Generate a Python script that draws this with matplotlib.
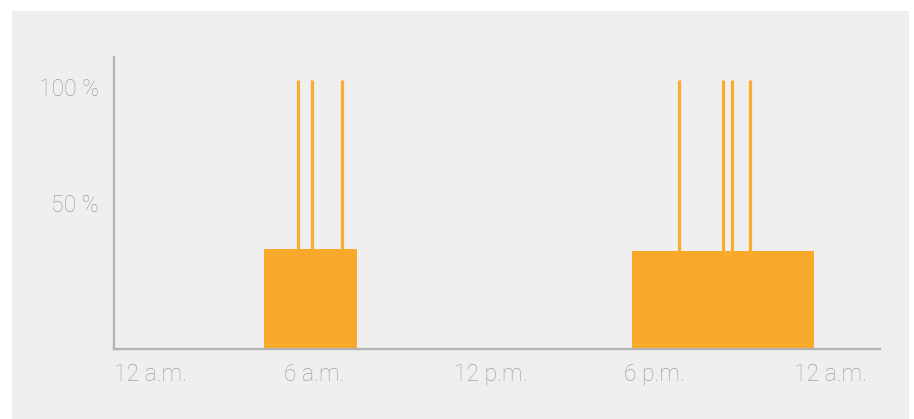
import matplotlib
matplotlib.use("Agg")
import matplotlib.pyplot as plt
from matplotlib.patches import Rectangle
import matplotlib.transforms as mtransforms

# Data (hours of the day, percent)
block_start = [5.29, 18.28]
block_end = [8.58, 24.70]
block_level = [37.2, 36.4]
spike_hours = [6.50, 7.00, 8.05, 19.92, 21.50, 21.82, 22.43]
spike_level = 100
x_ticks = [0, 6, 12, 18, 24]
x_labels = ["12 a.m.", "6 a.m.", "12 p.m.", "6 p.m.", "12 a.m."]
y_ticks = [50, 100]
y_labels = ["50 %", "100 %"]

W, H = 914, 419
fig = plt.figure(figsize=(W / 100, H / 100), dpi=100)
fig.patch.set_facecolor("white")
fig.patches.append(Rectangle((12 / W, 0), (909 - 12) / W, (419 - 11) / H,
                             transform=fig.transFigure, facecolor="#efefef",
                             edgecolor="none", zorder=-10))

ax = fig.add_axes([114 / W, (H - 349) / H, (880 - 114) / W, (349 - 57) / H])
ax.set_facecolor("none")
ax.set_zorder(1)

bar_color = "#f8a92a"
ax.vlines(spike_hours, 0, spike_level, color="#fbab2e", linewidth=2.3, zorder=2)
for s, e, v in zip(block_start, block_end, block_level):
    ax.bar(s, v, width=e - s, align="edge", color=bar_color, zorder=3, linewidth=0)

ax.set_xlim(0, 27.03)
ax.set_ylim(0, 108.6)

for side in ["top", "right"]:
    ax.spines[side].set_visible(False)
for side in ["left", "bottom"]:
    ax.spines[side].set_color("#b3b3b3")
    ax.spines[side].set_linewidth(1.7)
    ax.spines[side].set_zorder(4)

font = dict(family=["Roboto", "DejaVu Sans"], weight="light")
txt_color = "#a0a0a0"
ax.set_xticks(x_ticks)
ax.set_xticklabels(x_labels, ha="left", color=txt_color, fontsize=16.5, **font)
ax.set_yticks(y_ticks)
ax.set_yticklabels(y_labels, color=txt_color, fontsize=16.5, **font)
ax.tick_params(axis="both", length=0)
ax.tick_params(axis="x", pad=10)
ax.tick_params(axis="y", pad=11)

# fine vertical placement of y labels
offsets = {"50 %": 8 / 72, "100 %": -5 / 72}
for lab in ax.get_yticklabels():
    dy = offsets.get(lab.get_text(), 0)
    lab.set_transform(lab.get_transform() + mtransforms.ScaledTranslation(0, dy, fig.dpi_scale_trans))

fig.savefig("out.png", dpi=100, facecolor="white")
